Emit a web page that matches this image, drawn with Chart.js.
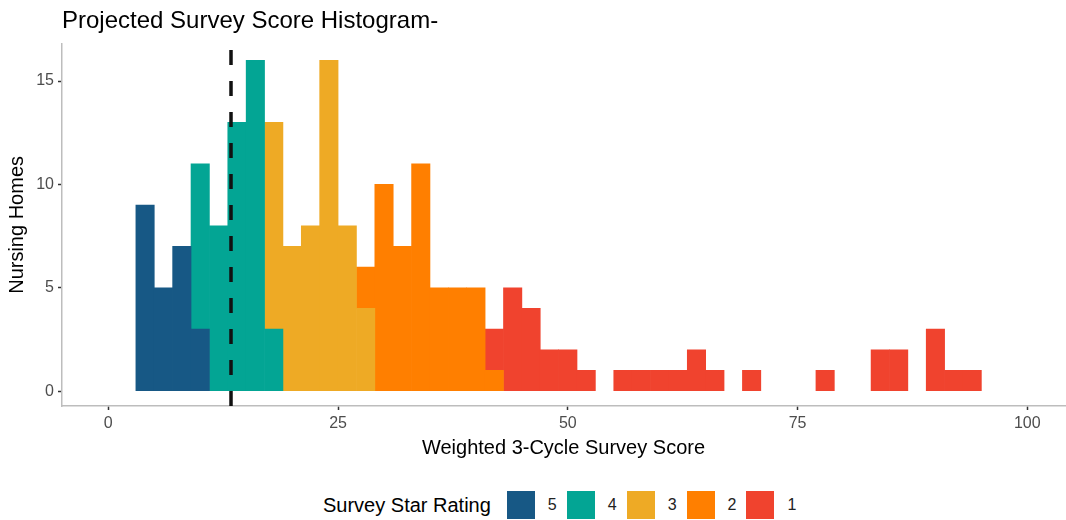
<!DOCTYPE html>
<html>
<head>
<meta charset="utf-8">
<script src="https://cdn.jsdelivr.net/npm/chart.js@4.4.0/dist/chart.umd.min.js"></script>
<style>
    body { margin: 0; background: #fff; font-family: "Liberation Sans", Arial, sans-serif; }
    #chart-box { position: relative; width: 1066px; height: 470px; }
    #legend { position: absolute; left: 323px; top: 491px; height: 28px; display: flex; align-items: center; }
    #legend .legend-title { font-size: 20px; color: #000; margin-right: 16px; }
    #legend .swatch { width: 28px; height: 28px; }
    #legend .label { font-size: 16px; color: #222; margin: 0 10px 0 13px; }
</style>
</head>
<body>
<div id="chart-box"><canvas id="survey-chart"></canvas></div>
<div id="legend"><span class="legend-title">Survey Star Rating</span></div>
<script>
// histogram bins (width 2), centre of each bin
const binCenters = [
    4, 6, 8, 10, 12, 14, 16, 18, 20, 22,
    24, 26, 28, 30, 32, 34, 36, 38, 40, 42,
    44, 46, 48, 50, 52, 54, 56, 58, 60, 62,
    64, 66, 68, 70, 72, 74, 76, 78, 80, 82,
    84, 86, 88, 90, 92, 94
];

// nursing homes per bin, split by star rating
const rating5 = [
    9, 5, 7, 3, 0, 0, 0, 0, 0, 0,
    0, 0, 0, 0, 0, 0, 0, 0, 0, 0,
    0, 0, 0, 0, 0, 0, 0, 0, 0, 0,
    0, 0, 0, 0, 0, 0, 0, 0, 0, 0,
    0, 0, 0, 0, 0, 0
];
const rating4 = [
    0, 0, 0, 8, 8, 13, 16, 3, 0, 0,
    0, 0, 0, 0, 0, 0, 0, 0, 0, 0,
    0, 0, 0, 0, 0, 0, 0, 0, 0, 0,
    0, 0, 0, 0, 0, 0, 0, 0, 0, 0,
    0, 0, 0, 0, 0, 0
];
const rating3 = [
    0, 0, 0, 0, 0, 0, 0, 10, 7, 8,
    16, 8, 4, 0, 0, 0, 0, 0, 0, 0,
    0, 0, 0, 0, 0, 0, 0, 0, 0, 0,
    0, 0, 0, 0, 0, 0, 0, 0, 0, 0,
    0, 0, 0, 0, 0, 0
];
const rating2 = [
    0, 0, 0, 0, 0, 0, 0, 0, 0, 0,
    0, 0, 2, 10, 7, 11, 5, 5, 5, 1,
    0, 0, 0, 0, 0, 0, 0, 0, 0, 0,
    0, 0, 0, 0, 0, 0, 0, 0, 0, 0,
    0, 0, 0, 0, 0, 0
];
const rating1 = [
    0, 0, 0, 0, 0, 0, 0, 0, 0, 0,
    0, 0, 0, 0, 0, 0, 0, 0, 0, 2,
    5, 4, 2, 2, 1, 0, 1, 1, 1, 1,
    2, 1, 0, 1, 0, 0, 0, 1, 0, 0,
    2, 2, 0, 3, 1, 1
];

const ratingLabels = ["5", "4", "3", "2", "1"];
const ratingColors = ["#175885", "#03a594", "#eeaa25", "#ff7f00", "#f0432e"];

const xTicks = [0, 25, 50, 75, 100];
const yTicks = [0, 5, 10, 15];

// dashed reference line
const cutoffScore = 13.35;

document.addEventListener("DOMContentLoaded", function () {
    Chart.defaults.font.family = '"Liberation Sans", Arial, sans-serif';

    const series = [rating5, rating4, rating3, rating2, rating1];
    const datasets = series.map((counts, i) => ({
        label: ratingLabels[i],
        data: counts.map((c, j) => ({ x: binCenters[j], y: c > 0 ? c : null })),
        backgroundColor: ratingColors[i],
        borderWidth: 0,
        barPercentage: 1,
        categoryPercentage: 1
    }));

    const cutoffLine = {
        id: "cutoffLine",
        afterDatasetsDraw(chart) {
            const { ctx, chartArea, scales } = chart;
            const x = scales.x.getPixelForValue(cutoffScore);
            ctx.save();
            ctx.strokeStyle = "#111";
            ctx.lineWidth = 3.5;
            ctx.setLineDash([15, 16]);
            ctx.beginPath();
            ctx.moveTo(x, chartArea.bottom);
            ctx.lineTo(x, chartArea.top);
            ctx.stroke();
            ctx.restore();
        }
    };

    const tickMarks = { display: true, drawOnChartArea: false, drawTicks: true, tickLength: 4, tickColor: "#333", tickWidth: 1.5, offset: false };
    const axisLine = { display: true, color: "#bdbdbd", width: 1.5 };

    new Chart(document.getElementById("survey-chart").getContext("2d"), {
        type: "bar",
        data: { datasets },
        options: {
            responsive: true,
            maintainAspectRatio: false,
            animation: false,
            layout: { padding: { left: 0, right: 1, top: 0, bottom: 0 } },
            plugins: {
                legend: { display: false },
                tooltip: { enabled: false },
                title: {
                    display: true,
                    text: "Projected Survey Score Histogram-",
                    align: "start",
                    fullSize: false,
                    color: "#000",
                    font: { size: 24, weight: "normal" },
                    padding: { top: 7, bottom: 8 }
                }
            },
            scales: {
                x: {
                    type: "linear",
                    stacked: true,
                    offset: false,
                    min: -5.04,
                    max: 104.1,
                    grid: tickMarks,
                    border: axisLine,
                    afterBuildTicks: scale => { scale.ticks = xTicks.map(v => ({ value: v })); },
                    afterFit: scale => { scale.height = 64; },
                    ticks: { color: "#4d4d4d", font: { size: 16 }, padding: 4, maxRotation: 0 },
                    title: {
                        display: true,
                        text: "Weighted 3-Cycle Survey Score",
                        color: "#000",
                        font: { size: 20 },
                        padding: { top: 0, bottom: 10 }
                    }
                },
                y: {
                    stacked: true,
                    min: -0.72,
                    max: 16.8,
                    grid: tickMarks,
                    border: axisLine,
                    afterBuildTicks: scale => { scale.ticks = yTicks.map(v => ({ value: v })); },
                    afterFit: scale => { scale.width = 62; },
                    ticks: { color: "#4d4d4d", font: { size: 16 }, padding: 4 },
                    title: {
                        display: true,
                        text: "Nursing Homes",
                        color: "#000",
                        font: { size: 20 },
                        padding: { top: 5, bottom: 0 }
                    }
                }
            }
        },
        plugins: [cutoffLine]
    });

    // legend laid out like the reference: title on the left, swatches in a row
    const legend = document.getElementById("legend");
    ratingLabels.forEach((label, i) => {
        const swatch = document.createElement("span");
        swatch.className = "swatch";
        swatch.style.background = ratingColors[i];
        const text = document.createElement("span");
        text.className = "label";
        text.textContent = label;
        legend.appendChild(swatch);
        legend.appendChild(text);
    });
});
</script>
</body>
</html>
